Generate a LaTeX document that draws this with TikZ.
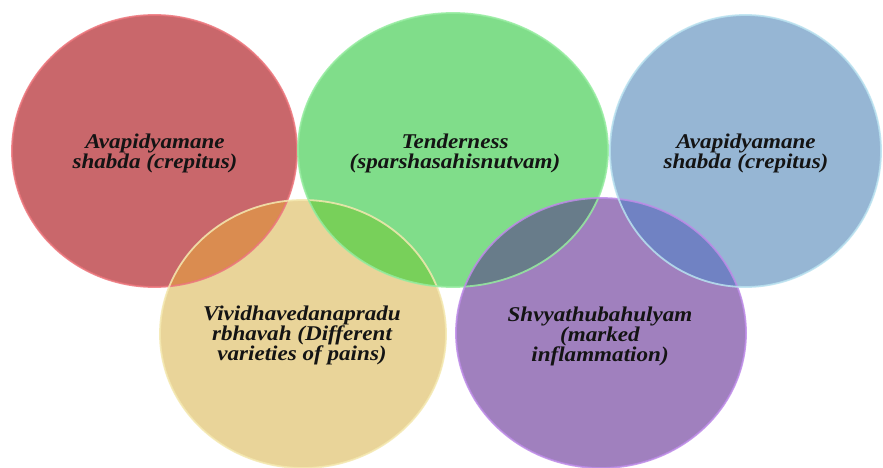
\documentclass[tikz,border=0pt]{standalone}
\usepackage{fontspec}
\setmainfont{Liberation Serif}[FakeStretch=1.1]
\definecolor{cRed}{RGB}{201,103,107}
\definecolor{cRedB}{RGB}{236,118,124}
\definecolor{cGreen}{RGB}{128,221,138}
\definecolor{cGreenB}{RGB}{150,236,160}
\definecolor{cBlue}{RGB}{150,182,212}
\definecolor{cBlueB}{RGB}{186,226,240}
\definecolor{cYellow}{RGB}{233,212,153}
\definecolor{cYellowB}{RGB}{244,232,176}
\definecolor{cPurple}{RGB}{160,128,190}
\definecolor{cPurpleB}{RGB}{190,140,232}
\definecolor{oRY}{RGB}{218,140,80}
\definecolor{oGY}{RGB}{120,208,90}
\definecolor{oGP}{RGB}{104,124,138}
\definecolor{oBP}{RGB}{112,130,195}
\newcommand\shpRed{(154.5,151) ellipse [x radius=142.5pt, y radius=136pt]}
\newcommand\shpGreen{(453,150) ellipse [x radius=155pt, y radius=137pt]}
\newcommand\shpBlue{(745.5,151) ellipse [x radius=135.5pt, y radius=136pt]}
\newcommand\shpYellow{(303,334) ellipse [x radius=143pt, y radius=134pt]}
\newcommand\shpPurple{(601,333) ellipse [x radius=145pt, y radius=135pt]}
\tikzset{
  lbl/.style={font=\bfseries\itshape\fontsize{21}{20}\selectfont, align=center, text=black!92},
  rim/.style={line width=1.8pt, draw opacity=0.85}
}
\begin{document}
\begin{tikzpicture}[x=1pt,y=-1pt]
\useasboundingbox (0,0) rectangle (883,468);
\fill[white] (0,0) rectangle (883,468);
\begin{scope}
\clip (0,0) rectangle (883,468);
% base fills
\fill[cRed] \shpRed;
\fill[cYellow] \shpYellow;
\fill[cGreen] \shpGreen;
\fill[cPurple] \shpPurple;
\fill[cBlue] \shpBlue;
% overlaps
\begin{scope}\clip \shpRed; \fill[oRY] \shpYellow;\end{scope}
\begin{scope}\clip \shpGreen; \fill[oGY] \shpYellow;\end{scope}
\begin{scope}\clip \shpGreen; \fill[oGP] \shpPurple;\end{scope}
\begin{scope}\clip \shpBlue; \fill[oBP] \shpPurple;\end{scope}
% rims
\draw[rim, cRedB] \shpRed;
\draw[rim, cYellowB] \shpYellow;
\draw[rim, cGreenB] \shpGreen;
\draw[rim, cPurpleB] \shpPurple;
\draw[rim, cBlueB] \shpBlue;
\end{scope}
% labels
\node[lbl] (tRed) at (155,153) {Avapidyamane\\shabda (crepitus)};
\node[lbl] (tGreen) at (455,153) {Tenderness\\(sparshasahisnutvam)};
\node[lbl] (tBlue) at (746,153) {Avapidyamane\\shabda (crepitus)};
\node[lbl] (tYellow) at (302,335) {Vividhavedanapradu\\rbhavah (Different\\varieties of pains)};
\node[lbl] (tPurple) at (600,336) {Shvyathubahulyam\\(marked\\inflammation)};
\end{tikzpicture}
\end{document}
